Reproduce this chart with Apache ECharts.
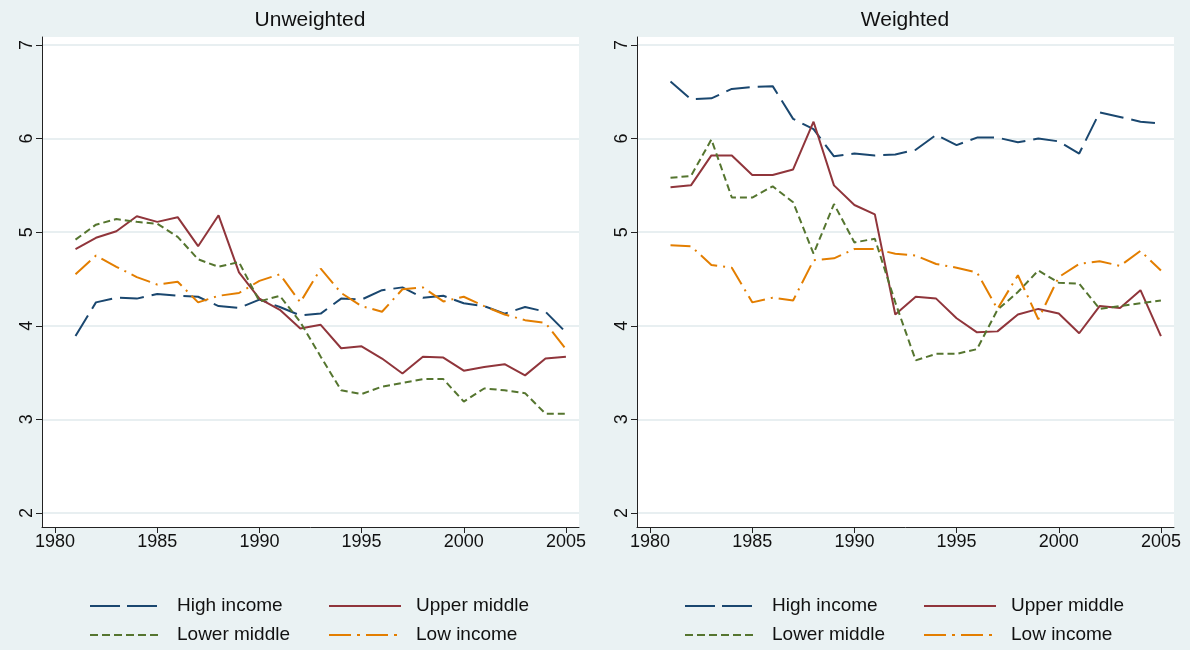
<!DOCTYPE html>
<html>
<head>
<meta charset="UTF-8">
<title>chart</title>
<script src="https://cdn.jsdelivr.net/npm/echarts@6/dist/echarts.min.js"></script>
</head>
<body style="margin:0;background-color:#eaf2f3;">
<div id="chart" style="width:1190px;height:650px;"></div>
<script>
    var years = [1981, 1982, 1983, 1984, 1985, 1986, 1987, 1988, 1989, 1990, 1991, 1992, 1993,
        1994, 1995, 1996, 1997, 1998, 1999, 2000, 2001, 2002, 2003, 2004, 2005];
    var names = ["High income", "Upper middle", "Lower middle", "Low income"];
    var panelTitles = ["Unweighted", "Weighted"];

    // unweighted
    var unwHigh = [3.89, 4.25, 4.30, 4.29, 4.34, 4.32, 4.31, 4.21, 4.19, 4.28, 4.20, 4.11, 4.13, 4.29, 4.28, 4.38, 4.41, 4.30, 4.32, 4.24, 4.21, 4.13, 4.20, 4.15, 3.93];
    var unwUpper = [4.82, 4.94, 5.01, 5.17, 5.11, 5.16, 4.85, 5.18, 4.57, 4.29, 4.17, 3.97, 4.01, 3.76, 3.78, 3.65, 3.49, 3.67, 3.66, 3.52, 3.56, 3.59, 3.47, 3.65, 3.67];
    var unwLower = [4.92, 5.08, 5.14, 5.11, 5.09, 4.95, 4.71, 4.63, 4.68, 4.26, 4.32, 4.04, 3.67, 3.31, 3.27, 3.35, 3.39, 3.43, 3.43, 3.19, 3.33, 3.31, 3.28, 3.06, 3.06];
    var unwLow = [4.55, 4.75, 4.63, 4.52, 4.44, 4.47, 4.25, 4.32, 4.35, 4.48, 4.55, 4.25, 4.61, 4.35, 4.21, 4.15, 4.39, 4.41, 4.26, 4.31, 4.21, 4.12, 4.06, 4.03, 3.75];

    // weighted
    var wHigh = [6.61, 6.42, 6.43, 6.53, 6.55, 6.56, 6.21, 6.10, 5.81, 5.84, 5.82, 5.83, 5.88, 6.04, 5.93, 6.01, 6.01, 5.96, 6.00, 5.97, 5.84, 6.28, 6.23, 6.18, 6.16];
    var wUpper = [5.48, 5.50, 5.82, 5.82, 5.61, 5.61, 5.67, 6.18, 5.50, 5.29, 5.19, 4.12, 4.31, 4.29, 4.08, 3.93, 3.94, 4.12, 4.18, 4.13, 3.92, 4.21, 4.19, 4.38, 3.89];
    var wLower = [5.58, 5.60, 5.99, 5.37, 5.37, 5.49, 5.32, 4.77, 5.30, 4.89, 4.93, 4.25, 3.63, 3.70, 3.70, 3.75, 4.17, 4.36, 4.59, 4.46, 4.45, 4.18, 4.21, 4.24, 4.27];
    var wLow = [4.86, 4.85, 4.65, 4.62, 4.25, 4.30, 4.27, 4.70, 4.72, 4.82, 4.82, 4.77, 4.75, 4.66, 4.62, 4.57, 4.18, 4.54, 4.07, 4.52, 4.66, 4.69, 4.64, 4.80, 4.59];

    var xTicks = [1980, 1985, 1990, 1995, 2000, 2005];
    var yTicks = [2, 3, 4, 5, 6, 7];

    var panels = [[unwHigh, unwUpper, unwLower, unwLow], [wHigh, wUpper, wLower, wLow]];
    var colors = ["#1a476f", "#90353b", "#55752f", "#e37e00"];
    var dashes = [[24, 8], "solid", [7, 4], [20, 6, 2, 6]];
    var legendDashes = [[30, 7], "solid", [8, 4], [22, 6, 3, 6]];
    var fontFamily = "Liberation Sans, Arial, sans-serif";

    var chart = echarts.init(document.getElementById("chart"), null, {renderer: "canvas"});

    var grids = [], xAxes = [], yAxes = [], series = [], titles = [], legends = [];
    var gridLeft = [42, 637];
    for (var p = 0; p < 2; p++) {
        grids.push({left: gridLeft[p], top: 37, width: 537, height: 490, show: true,
            backgroundColor: "#ffffff", borderWidth: 0});
        xAxes.push({
            type: "value", gridIndex: p, min: 1979.36, max: 2005.64,
            axisLine: {show: true, lineStyle: {color: "#222", width: 1}},
            axisTick: {show: true, length: 6, customValues: xTicks, lineStyle: {color: "#222"}},
            axisLabel: {customValues: xTicks, fontSize: 18, color: "#111", margin: 6, fontFamily: fontFamily,
                formatter: function (v) { return String(v); }},
            splitLine: {show: false}
        });
        yAxes.push({
            type: "value", gridIndex: p, min: 1.85, max: 7.085,
            axisLine: {show: true, lineStyle: {color: "#222", width: 1}},
            axisTick: {show: true, length: 6, customValues: yTicks, lineStyle: {color: "#222"}},
            axisLabel: {customValues: yTicks, fontSize: 18, color: "#111", rotate: 90, margin: 6, fontFamily: fontFamily},
            splitLine: {show: true, lineStyle: {color: "#e1eaec", width: 1.5}}
        });
        titles.push({
            text: panelTitles[p], left: gridLeft[p] + 263, top: 5, textAlign: "center",
            textStyle: {fontSize: 21, fontWeight: "normal", color: "#111", fontFamily: fontFamily}
        });
        for (var s = 0; s < 4; s++) {
            var pts = [];
            for (var i = 0; i < years.length; i++) {
                pts.push([years[i], panels[p][s][i]]);
            }
            series.push({
                name: names[s], type: "line", xAxisIndex: p, yAxisIndex: p,
                data: pts, symbol: "none", animation: false,
                lineStyle: {color: colors[s], width: 2, type: dashes[s]},
                itemStyle: {color: colors[s]}
            });
        }
        var legendCols = [[0, 2], [1, 3]];
        var legendLeft = [gridLeft[p] + 47, gridLeft[p] + 286];
        for (var c = 0; c < 2; c++) {
            var items = [];
            for (var k = 0; k < 2; k++) {
                var idx = legendCols[c][k];
                items.push({name: names[idx], lineStyle: {type: legendDashes[idx]}});
            }
            legends.push({
                data: items, orient: "vertical", left: legendLeft[c], bottom: 5, padding: 0,
                itemWidth: 72, itemHeight: 14, itemGap: 9, selectedMode: false,
                itemStyle: {opacity: 0},
                textStyle: {fontSize: 19, color: "#111", lineHeight: 20, padding: [0, 0, 0, 10], fontFamily: fontFamily}
            });
        }
    }

    chart.setOption({
        backgroundColor: "#eaf2f3",
        animation: false,
        title: titles,
        grid: grids,
        xAxis: xAxes,
        yAxis: yAxes,
        legend: legends,
        series: series
    });
</script>
</body>
</html>
